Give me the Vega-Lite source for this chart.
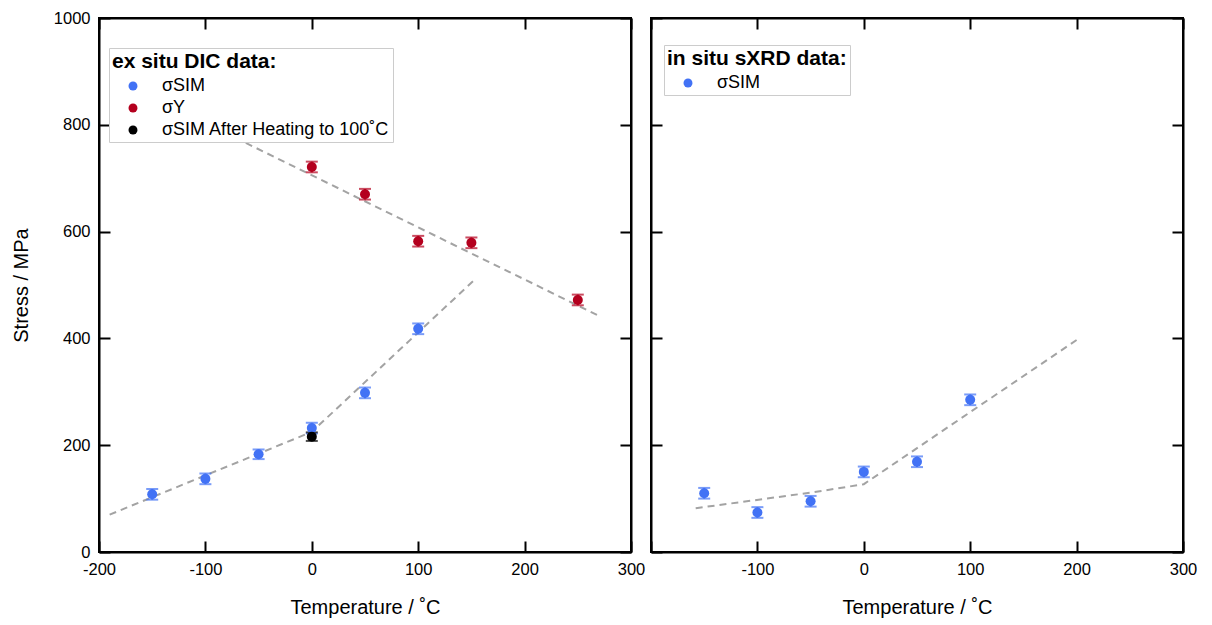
{
  "$schema": "https://vega.github.io/schema/vega-lite/v6.json",
  "background": "white",
  "autosize": {"type": "pad"},
  "padding": {"left": 10, "top": 9, "right": 5, "bottom": 5},
  "spacing": 20,
  "bounds": "flush",
  "config": {
    "font": "Liberation Sans",
    "view": {"stroke": "black", "strokeWidth": 2},
    "axis": {
      "grid": false,
      "domainColor": "black",
      "domainWidth": 2,
      "tickColor": "black",
      "tickWidth": 2,
      "tickSize": -11,
      "labelPadding": 20,
      "labelFlush": false,
      "labelOverlap": false,
      "labelFont": "Liberation Sans",
      "labelFontSize": 16.5,
      "labelColor": "black",
      "titleFont": "Liberation Sans",
      "titleFontSize": 20,
      "titleFontWeight": "normal",
      "titleColor": "black",
      "labelExpr": "'' + datum.value"
    },
    "legend": {
      "titleFont": "Liberation Sans",
      "titleFontSize": 21,
      "titleFontWeight": "bold",
      "titleColor": "black",
      "titleLimit": 400,
      "labelFont": "Liberation Sans",
      "labelFontSize": 18,
      "labelColor": "black",
      "labelLimit": 400,
      "symbolType": "circle",
      "symbolSize": 80,
      "symbolOpacity": 1,
      "symbolStrokeWidth": 0,
      "strokeColor": "#cccccc",
      "fillColor": "white",
      "padding": 3,
      "rowPadding": 4,
      "symbolOffset": 12,
      "labelOffset": 20
    }
  },
  "datasets": {
    "lineL": [
      {"T": -190, "S": 70, "g": "a"},
      {"T": 0, "S": 225, "g": "a"},
      {"T": 152, "S": 508, "g": "a"},
      {"T": -62, "S": 766, "g": "b"},
      {"T": 270, "S": 442, "g": "b"}
    ],
    "ptsL": [
      {"T": -150, "S": 108, "lo": 98, "hi": 118, "series": "σSIM"},
      {"T": -100, "S": 137, "lo": 127, "hi": 147, "series": "σSIM"},
      {"T": -50, "S": 183, "lo": 174, "hi": 192, "series": "σSIM"},
      {"T": 0, "S": 232, "lo": 222, "hi": 242, "series": "σSIM"},
      {"T": 50, "S": 298, "lo": 288, "hi": 308, "series": "σSIM"},
      {"T": 100, "S": 418, "lo": 408, "hi": 428, "series": "σSIM"},
      {"T": 0, "S": 721, "lo": 711, "hi": 731, "series": "σY"},
      {"T": 50, "S": 670, "lo": 660, "hi": 680, "series": "σY"},
      {"T": 100, "S": 582, "lo": 572, "hi": 592, "series": "σY"},
      {"T": 150, "S": 579, "lo": 569, "hi": 589, "series": "σY"},
      {"T": 250, "S": 472, "lo": 462, "hi": 482, "series": "σY"},
      {"T": 0, "S": 216, "lo": 208, "hi": 224, "series": "σSIM After Heating to 100˚C"}
    ],
    "lineR": [
      {"T": -158, "S": 82},
      {"T": -47, "S": 112},
      {"T": 0, "S": 127},
      {"T": 200, "S": 397}
    ],
    "ptsR": [
      {"T": -150, "S": 110, "lo": 100, "hi": 120, "series": "σSIM"},
      {"T": -100, "S": 74, "lo": 64, "hi": 84, "series": "σSIM"},
      {"T": -50, "S": 95, "lo": 85, "hi": 105, "series": "σSIM"},
      {"T": 0, "S": 150, "lo": 140, "hi": 160, "series": "σSIM"},
      {"T": 50, "S": 169, "lo": 159, "hi": 179, "series": "σSIM"},
      {"T": 100, "S": 285, "lo": 275, "hi": 295, "series": "σSIM"}
    ]
  },
  "resolve": {"scale": {"color": "independent"}, "legend": {"color": "independent"}},
  "hconcat": [
    {
      "width": 532,
      "height": 534,
      "resolve": {"axis": {"x": "independent", "y": "independent"}},
      "layer": [
        {
          "data": {"name": "lineL"},
          "mark": {"type": "line", "color": "#a3a3a3", "strokeWidth": 2, "strokeDash": [7, 5]},
          "encoding": {
            "x": {"field": "T", "type": "quantitative", "scale": {"domain": [-200, 300], "nice": false},
                  "axis": {"orient": "top", "labels": false, "title": null, "values": [-200, -100, 0, 100, 200, 300]}},
            "y": {"field": "S", "type": "quantitative", "scale": {"domain": [0, 1000], "nice": false},
                  "axis": {"orient": "right", "labels": false, "title": null, "values": [0, 200, 400, 600, 800, 1000]}},
            "detail": {"field": "g"}
          }
        },
        {
          "data": {"name": "ptsL"},
          "mark": {"type": "errorbar", "thickness": 2, "ticks": {"size": 12, "thickness": 2}},
          "encoding": {
            "x": {"field": "T", "type": "quantitative", "axis": null},
            "y": {"field": "lo", "type": "quantitative", "axis": null},
            "y2": {"field": "hi"},
            "color": {"field": "series", "type": "nominal",
                      "scale": {"domain": ["σSIM", "σY", "σSIM After Heating to 100˚C"], "range": ["#4272F5", "#B4001E", "#000000"]},
                      "legend": {"title": "ex situ DIC data:", "orient": "none", "legendX": 10, "legendY": 30, "symbolType": "circle"}}
          }
        },
        {
          "data": {"name": "ptsL"},
          "mark": {"type": "circle", "size": 100, "opacity": 1},
          "encoding": {
            "x": {"field": "T", "type": "quantitative",
                  "axis": {"orient": "bottom", "title": "Temperature / ˚C", "titlePadding": 20, "values": [-200, -100, 0, 100, 200, 300]}},
            "y": {"field": "S", "type": "quantitative",
                  "axis": {"orient": "left", "title": "Stress / MPa", "titlePadding": 22, "values": [0, 200, 400, 600, 800, 1000]}},
            "color": {"field": "series", "type": "nominal",
                      "scale": {"domain": ["σSIM", "σY", "σSIM After Heating to 100˚C"], "range": ["#4272F5", "#B4001E", "#000000"]},
                      "legend": {"title": "ex situ DIC data:", "orient": "none", "legendX": 10, "legendY": 30, "symbolType": "circle"}}
          }
        }
      ]
    },
    {
      "width": 532,
      "height": 534,
      "resolve": {"axis": {"x": "independent", "y": "independent"}},
      "layer": [
        {
          "data": {"name": "lineR"},
          "mark": {"type": "line", "color": "#a3a3a3", "strokeWidth": 2, "strokeDash": [7, 5]},
          "encoding": {
            "x": {"field": "T", "type": "quantitative", "scale": {"domain": [-200, 300], "nice": false},
                  "axis": {"orient": "top", "labels": false, "title": null, "values": [-200, -100, 0, 100, 200, 300]}},
            "y": {"field": "S", "type": "quantitative", "scale": {"domain": [0, 1000], "nice": false},
                  "axis": {"orient": "right", "labels": false, "title": null, "values": [0, 200, 400, 600, 800, 1000]}}
          }
        },
        {
          "data": {"name": "ptsR"},
          "mark": {"type": "errorbar", "thickness": 2, "ticks": {"size": 12, "thickness": 2}},
          "encoding": {
            "x": {"field": "T", "type": "quantitative", "axis": null},
            "y": {"field": "lo", "type": "quantitative", "axis": null},
            "y2": {"field": "hi"},
            "color": {"field": "series", "type": "nominal",
                      "scale": {"domain": ["σSIM"], "range": ["#4272F5"]},
                      "legend": {"title": "in situ sXRD data:", "orient": "none", "legendX": 13, "legendY": 27, "symbolType": "circle"}}
          }
        },
        {
          "data": {"name": "ptsR"},
          "mark": {"type": "circle", "size": 100, "opacity": 1},
          "encoding": {
            "x": {"field": "T", "type": "quantitative",
                  "axis": {"orient": "bottom", "title": "Temperature / ˚C", "titlePadding": 20, "values": [-200, -100, 0, 100, 200, 300],
                           "labelExpr": "datum.value == -200 ? '' : '' + datum.value"}},
            "y": {"field": "S", "type": "quantitative",
                  "axis": {"orient": "left", "labels": false, "title": null, "values": [0, 200, 400, 600, 800, 1000]}},
            "color": {"field": "series", "type": "nominal",
                      "scale": {"domain": ["σSIM"], "range": ["#4272F5"]},
                      "legend": {"title": "in situ sXRD data:", "orient": "none", "legendX": 13, "legendY": 27, "symbolType": "circle"}}
          }
        }
      ]
    }
  ]
}
